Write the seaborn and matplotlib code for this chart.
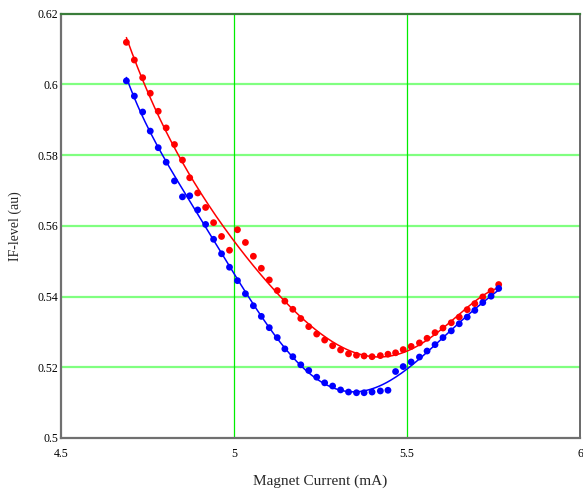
import numpy as np
import pandas as pd
import matplotlib
matplotlib.use("Agg")
import matplotlib.pyplot as plt
import seaborn as sns

# Magnet current (mA)
current = [4.689, 4.712, 4.736, 4.758, 4.781, 4.804, 4.828, 4.851, 4.872, 4.895,
           4.918, 4.941, 4.964, 4.987, 5.010, 5.033, 5.056, 5.079, 5.102, 5.125,
           5.147, 5.170, 5.193, 5.216, 5.239, 5.262, 5.285, 5.308, 5.331, 5.354,
           5.376, 5.399, 5.423, 5.445, 5.467, 5.489, 5.512, 5.536, 5.558, 5.581,
           5.604, 5.628, 5.651, 5.674, 5.696, 5.719, 5.743, 5.765]

# IF level, red series
if_red = [0.6119, 0.6069, 0.6019, 0.5975, 0.5924, 0.5877, 0.5830, 0.5786, 0.5736, 0.5693,
          0.5652, 0.5609, 0.5570, 0.5531, 0.5589, 0.5553, 0.5514, 0.5480, 0.5447, 0.5417,
          0.5387, 0.5364, 0.5338, 0.5315, 0.5294, 0.5277, 0.5261, 0.5249, 0.5238, 0.5234,
          0.5232, 0.5230, 0.5233, 0.5237, 0.5241, 0.5250, 0.5259, 0.5269, 0.5282, 0.5298,
          0.5311, 0.5326, 0.5342, 0.5363, 0.5380, 0.5399, 0.5416, 0.5434]

# IF level, blue series
if_blue = [0.6010, 0.5967, 0.5922, 0.5868, 0.5821, 0.5780, 0.5727, 0.5682, 0.5685, 0.5645,
           0.5604, 0.5562, 0.5521, 0.5483, 0.5445, 0.5408, 0.5374, 0.5344, 0.5312, 0.5284,
           0.5252, 0.5230, 0.5207, 0.5191, 0.5172, 0.5156, 0.5147, 0.5136, 0.5130, 0.5128,
           0.5128, 0.5130, 0.5133, 0.5135, 0.5188, 0.5202, 0.5215, 0.5229, 0.5246, 0.5264,
           0.5284, 0.5303, 0.5323, 0.5342, 0.5361, 0.5383, 0.5401, 0.5423]

x_ticks = [4.5, 5, 5.5, 6]
x_tick_labels = ["4.5", "5", "5.5", "6"]
y_ticks = [0.5, 0.52, 0.54, 0.56, 0.58, 0.6, 0.62]
y_tick_labels = ["0.5", "0.52", "0.54", "0.56", "0.58", "0.6", "0.62"]

x_label = "Magnet Current (mA)"
y_label = "IF-level (au)"

sns.set_style("white")
plt.rcParams["font.family"] = ["Liberation Serif", "DejaVu Serif"]

points = pd.DataFrame({
    "current": current * 2,
    "level": if_red + if_blue,
    "series": ["red"] * len(current) + ["blue"] * len(current),
})

# smooth fitted curves through each series
xs = np.linspace(min(current), max(current), 200)
fits = []
for name, vals in (("red", if_red), ("blue", if_blue)):
    poly = np.polynomial.Polynomial.fit(current, vals, 6)
    fits.append(pd.DataFrame({"current": xs, "level": poly(xs), "series": name}))
fits = pd.concat(fits, ignore_index=True)

palette = {"red": "#ff0000", "blue": "#0000ff"}

fig = plt.figure(figsize=(5.83, 4.92), dpi=100)
ax = fig.add_axes([61 / 583, 1 - 438 / 492, (580 - 61) / 583, (438 - 13.7) / 492])

# grid
for yv in y_ticks[1:-1]:
    ax.axhline(yv, color="#80ff80", lw=1.6, zorder=0)
for xv in x_ticks[1:-1]:
    ax.axvline(xv, color="#00ee00", lw=0.9, zorder=0)

sns.lineplot(data=fits, x="current", y="level", hue="series", palette=palette,
             lw=1.1, legend=False, ax=ax, zorder=2)
sns.scatterplot(data=points, x="current", y="level", hue="series", palette=palette,
                s=24, linewidth=0, legend=False, ax=ax, zorder=3)

ax.set_xlim(4.5, 6)
ax.set_ylim(0.5, 0.62)
ax.set_xticks(x_ticks)
ax.set_xticklabels(x_tick_labels)
ax.set_yticks(y_ticks)
ax.set_yticklabels(y_tick_labels)
ax.tick_params(length=0, labelsize=8.5, colors="black")
ax.tick_params(axis="x", pad=7)
ax.tick_params(axis="y", pad=2)

for side in ("left", "bottom"):
    ax.spines[side].set_color("#707070")
    ax.spines[side].set_linewidth(1.6)
ax.spines["top"].set_color("#3a7d3a")
ax.spines["top"].set_linewidth(1.6)
ax.spines["right"].set_color("#505050")
ax.spines["right"].set_linewidth(1.2)

ax.set_xlabel(x_label, fontsize=11)
ax.set_ylabel(y_label, fontsize=10)
ax.xaxis.set_label_coords(0.5, -0.085)
ax.yaxis.set_label_coords(-0.075, 0.5)

fig.savefig("out.png", dpi=100)
